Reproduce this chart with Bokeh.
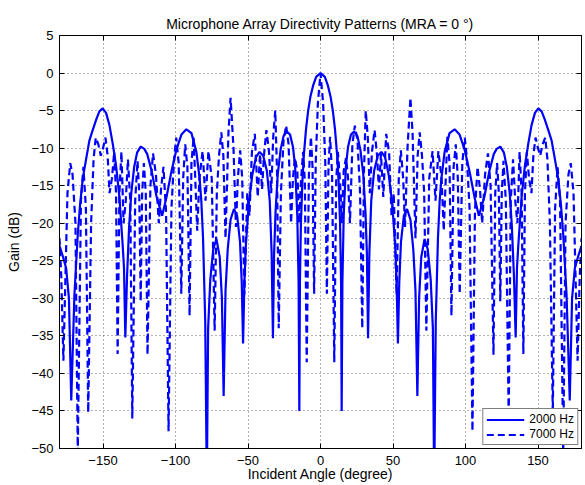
from bokeh.plotting import figure
from bokeh.models import FixedTicker, LinearAxis, Range1d, Legend, LegendItem
from bokeh.embed import file_html
from bokeh.resources import INLINE

FONT = "Liberation Sans"

# ---- data ----
angle_2000 = [-180, -177.7, -175.4, -173.5, -171.9, -169.7, -167.4, -165.8, -163.9, -161.5,
              -159.4, -157.1, -154.7, -152.5, -150.2, -147.9, -145.6, -143.3, -141, -138.7,
              -136.4, -135.5, -134.6, -133.4, -132, -130.5, -128.5, -126.5, -124, -121.5,
              -119.5, -116.5, -113, -109.2, -106.3, -102.8, -99.4, -95.9, -92.5, -89,
              -85.6, -83.4, -82.2, -81, -79.5, -78.4, -77.5, -76, -74, -71.8,
              -69.5, -68, -66.8, -65.5, -64, -62, -59.7, -57.5, -55.5, -54.3,
              -53.4, -52.5, -51.5, -49.5, -47, -44.5, -42, -39.5, -37, -35,
              -33.7, -32.8, -32, -31, -29.5, -27.5, -25.5, -23.2, -21, -19,
              -17.5, -16, -15.1, -14.6, -14.2, -13.5, -12.5, -11.5, -10, -8.5,
              -7, -5, -3,
              0,
              3, 5, 7, 8.5, 10, 11.5, 12.5, 13.5, 14.2, 14.6,
              15.1, 16, 17.5, 19, 21, 23.2, 25.5, 27.5, 29.5, 31,
              32, 32.8, 33.7, 35, 37, 39.5, 42, 44.5, 47, 49.5,
              51.5, 52.5, 53.4, 54.3, 55.5, 57.5, 59.7, 62, 64, 65.5,
              66.8, 68, 69.5, 71.8, 74, 76, 77.5, 78.4, 79.5, 81,
              82.2, 83.4, 85.6, 89, 92.5, 95.9, 99.4, 102.8, 106.3, 109.2,
              113, 116.5, 119.5, 121.5, 124, 126.5, 128.5, 130.5, 132, 133.4,
              134.6, 135.5, 136.4, 138.7, 141, 143.3, 145.6, 147.9, 150.2, 152.5,
              154.7, 157.1, 159.4, 161.5, 163.9, 165.8, 167.4, 169.7, 171.9, 173.5,
              175.4, 177.7, 180]
gain_2000 = [-23, -24.4, -26, -30, -43.6, -29.5, -21.5, -17.5, -14, -11.3,
             -9.0, -7.6, -6.2, -5.1, -4.7, -5.3, -6.9, -9.4, -12.3, -16.5,
             -23, -26, -35.2, -27, -20.5, -16, -12.5, -10.6, -9.8, -10.1,
             -10.8, -13, -16.5, -19, -16.6, -13.1, -10.2, -8.2, -7.5, -8.0,
             -10.5, -14, -17, -22, -33, -55, -34, -27.5, -23.5, -22.1,
             -24.5, -30, -43, -29, -23.5, -19.5, -18.1, -19, -22.5, -28,
             -36, -28, -23, -17.5, -13.5, -11.2, -10.5, -11, -13, -17,
             -24, -35.3, -24, -18.5, -13.5, -10.2, -8.4, -7.8, -8.2, -9.8,
             -12.5, -19, -28, -45, -28, -20, -14.5, -11.0, -7.5, -5.0,
             -3.2, -1.6, -0.5,
             0,
             -0.5, -1.6, -3.2, -5.0, -7.5, -11.0, -14.5, -20, -28, -45,
             -28, -19, -12.5, -9.8, -8.2, -7.8, -8.4, -10.2, -13.5, -18.5,
             -24, -35.3, -24, -17, -13, -11, -10.5, -11.2, -13.5, -17.5,
             -23, -28, -36, -28, -22.5, -19, -18.1, -19.5, -23.5, -29,
             -43, -30, -24.5, -22.1, -23.5, -27.5, -34, -55, -33, -22,
             -17, -14, -10.5, -8.0, -7.5, -8.2, -10.2, -13.1, -16.6, -19,
             -16.5, -13, -10.8, -10.1, -9.8, -10.6, -12.5, -16, -20.5, -27,
             -35.2, -26, -23, -16.5, -12.3, -9.4, -6.9, -5.3, -4.7, -5.1,
             -6.2, -7.6, -9.0, -11.3, -14, -17.5, -21.5, -29.5, -43.6, -30,
             -26, -24.4, -23]

angle_7000 = [-180.0, -178.8, -177.3, -174.5, -172.6, -171.0, -169.0, -167.4, -165.2, -163.5,
              -161.8, -160.2, -158.2, -156.5, -155.0, -153.2, -151.5, -150.0, -148.3, -146.8,
              -145.5, -143.8, -142.3, -141.0, -139.9, -138.7, -137.3, -135.8, -134.3, -132.8,
              -131.2, -129.8, -127.8, -126.2, -125.0, -124.0, -123.0, -121.8, -120.5, -119.3,
              -117.3, -115.5, -113.5, -111.5, -110.0, -108.3, -106.5, -104.8, -102.8, -101.0,
              -99.5, -97.8, -96.0, -94.7, -93.3, -91.8, -90.3, -89.0, -87.5, -85.0,
              -83.5, -81.3, -79.3, -77.3, -75.0, -73.0, -71.5, -70.0, -68.4, -67.0,
              -65.5, -63.5, -62.0, -60.0, -58.3, -57.0, -55.4, -54.0, -52.5, -50.5,
              -49.0, -47.3, -45.3, -43.3, -41.7, -40.3, -39.0, -37.3, -35.5, -34.0,
              -32.6, -31.2, -30.0, -28.8, -27.3, -25.5, -23.7, -22.0, -20.3, -19.0,
              -17.6, -16.0, -14.7, -13.5, -12.0, -10.8, -9.5, -8.0, -6.6, -5.5,
              -4.4, -3.3, -1.8,
              0.0,
              1.8, 3.3, 4.4, 5.5, 6.6, 8.0, 9.5, 10.8, 12.0, 13.5,
              14.7, 16.0, 17.6, 19.0, 20.3, 22.0, 23.7, 25.5, 27.3, 28.8,
              30.0, 31.2, 32.6, 34.0, 35.5, 37.3, 39.0, 40.3, 41.7, 43.3,
              45.3, 47.3, 49.0, 50.5, 52.5, 54.0, 55.4, 57.0, 58.3, 60.0,
              62.0, 63.5, 65.5, 67.0, 68.4, 70.0, 71.5, 73.0, 75.0, 77.3,
              79.3, 81.3, 83.5, 85.0, 87.5, 89.0, 90.3, 91.8, 93.3, 94.7,
              96.0, 97.8, 99.5, 101.0, 102.8, 104.8, 106.5, 108.3, 110.0, 111.5,
              113.5, 115.5, 117.3, 119.3, 120.5, 121.8, 123.0, 124.0, 125.0, 126.2,
              127.8, 129.8, 131.2, 132.8, 134.3, 135.8, 137.3, 138.7, 139.9, 141.0,
              142.3, 143.8, 145.5, 146.8, 148.3, 150.0, 151.5, 153.2, 155.0, 156.5,
              158.2, 160.2, 161.8, 163.5, 165.2, 167.4, 169.0, 171.0, 172.6, 174.5,
              177.3, 178.8, 180.0]
gain_7000 = [-22.0, -27.0, -38.3, -16.0, -12.0, -13.5, -20.0, -50.5, -17.0, -12.5,
             -18.0, -45.2, -20.0, -11.5, -8.6, -9.5, -11.0, -10.0, -8.6, -11.0,
             -16.0, -14.0, -10.5, -16.0, -37.4, -16.0, -10.5, -20.0, -17.0, -11.5,
             -17.0, -46.0, -17.0, -11.7, -16.0, -30.4, -16.0, -12.0, -16.0, -37.5,
             -15.0, -10.7, -13.5, -20.0, -15.5, -12.5, -18.5, -47.7, -18.0, -11.5,
             -8.6, -12.0, -29.4, -14.0, -9.5, -12.5, -32.3, -12.0, -8.5, -21.0,
             -14.0, -10.4, -17.0, -10.4, -14.0, -34.3, -16.0, -11.0, -7.9, -11.0,
             -22.0, -8.0, -3.3, -10.0, -20.5, -14.0, -10.3, -14.0, -29.5, -16.0,
             -19.0, -10.5, -8.1, -16.5, -10.8, -15.5, -11.0, -7.6, -10.5, -16.0,
             -8.5, -5.0, -13.0, -34.0, -16.0, -9.0, -7.0, -9.5, -20.0, -14.0,
             -11.3, -13.0, -20.0, -14.5, -10.5, -14.5, -38.5, -13.5, -8.5, -12.5,
             -29.4, -12.0, -4.0,
             0.0,
             -4.0, -12.0, -29.4, -12.5, -8.5, -13.5, -38.5, -14.5, -10.5, -14.5,
             -20.0, -13.0, -11.3, -14.0, -20.0, -9.5, -7.0, -9.0, -16.0, -34.0,
             -13.0, -5.0, -8.5, -16.0, -10.5, -7.6, -11.0, -15.5, -10.8, -16.5,
             -8.1, -10.5, -19.0, -16.0, -29.5, -14.0, -10.3, -14.0, -20.5, -10.0,
             -3.3, -8.0, -22.0, -11.0, -7.9, -11.0, -16.0, -34.3, -14.0, -10.4,
             -17.0, -10.4, -14.0, -21.0, -8.5, -12.0, -32.3, -12.5, -9.5, -14.0,
             -29.4, -12.0, -8.6, -11.5, -18.0, -47.7, -18.5, -12.5, -15.5, -20.0,
             -13.5, -10.7, -15.0, -37.5, -16.0, -12.0, -16.0, -30.4, -16.0, -11.7,
             -17.0, -46.0, -17.0, -11.5, -17.0, -20.0, -10.5, -16.0, -37.4, -16.0,
             -10.5, -14.0, -16.0, -11.0, -8.6, -10.0, -11.0, -9.5, -8.6, -11.5,
             -20.0, -45.2, -18.0, -12.5, -17.0, -50.5, -20.0, -13.5, -12.0, -16.0,
             -38.3, -27.0, -22.0]

x_ticks = [-150, -100, -50, 0, 50, 100, 150]
y_ticks = [5, 0, -5, -10, -15, -20, -25, -30, -35, -40, -45, -50]
series_labels = ["2000 Hz", "7000 Hz"]
title_text = "Microphone Array Directivity Patterns (MRA = 0 \u00b0)"
x_label = "Incident Angle (degree)"
y_label = "Gain (dB)"

BLUE = "#0000ff"

p = figure(width=585, height=485,
           x_range=Range1d(-180, 180), y_range=Range1d(-50, 5),
           output_backend="svg", toolbar_location=None,
           min_border_left=59, min_border_right=4, min_border_top=35, min_border_bottom=37,
           background_fill_color="white", border_fill_color="white")

p.title.text = title_text
p.title.text_font = FONT
p.title.text_font_size = "14px"
p.title.text_font_style = "normal"
p.title.text_color = "black"
p.title.align = "center"
p.title.standoff = 8

for ax, ticks, lab in ((p.xaxis[0], x_ticks, x_label), (p.yaxis[0], y_ticks, y_label)):
    ax.ticker = FixedTicker(ticks=ticks)
    ax.axis_label = lab
    ax.axis_label_text_font = FONT
    ax.axis_label_text_font_size = "14px"
    ax.axis_label_text_font_style = "normal"
    ax.axis_label_text_color = "black"
    ax.major_label_text_font = FONT
    ax.major_label_text_font_size = "13px"
    ax.major_label_text_color = "black"
    ax.major_tick_in = 5
    ax.major_tick_out = 0
    ax.minor_tick_in = 0
    ax.minor_tick_out = 0
    ax.axis_line_color = "black"
    ax.major_tick_line_color = "black"

p.xaxis.major_label_standoff = 7
p.xaxis.axis_label_standoff = -2
p.yaxis.major_label_standoff = 6
p.yaxis.axis_label_standoff = 6

# mirrored inward ticks on the right and top edges (minor ticks only, so no labels)
right_ax = LinearAxis(ticker=FixedTicker(ticks=[], minor_ticks=y_ticks),
                      major_tick_in=0, major_tick_out=0,
                      minor_tick_in=5, minor_tick_out=0, minor_tick_line_color="black",
                      axis_line_color="black")
top_ax = LinearAxis(ticker=FixedTicker(ticks=[], minor_ticks=x_ticks),
                    major_tick_in=0, major_tick_out=0,
                    minor_tick_in=5, minor_tick_out=0, minor_tick_line_color="black",
                    axis_line_color="black")
p.add_layout(right_ax, "right")
p.add_layout(top_ax, "above")

p.outline_line_color = "black"
p.outline_line_width = 1

p.xgrid.ticker = FixedTicker(ticks=x_ticks)
p.ygrid.ticker = FixedTicker(ticks=y_ticks)
for g in (p.xgrid[0], p.ygrid[0]):
    g.grid_line_color = "black"
    g.grid_line_alpha = 0.6
    g.grid_line_dash = "1 3"
    g.grid_line_width = 1

r1 = p.line(angle_2000, gain_2000, line_color=BLUE, line_width=2.2)
r2 = p.line(angle_7000, gain_7000, line_color=BLUE, line_width=2.2, line_dash="7 4")

legend = Legend(items=[LegendItem(label=series_labels[0], renderers=[r1]),
                       LegendItem(label=series_labels[1], renderers=[r2])],
                location="bottom_right")
legend.label_text_font = FONT
legend.label_text_font_size = "12px"
legend.label_text_color = "black"
legend.border_line_color = "black"
legend.border_line_width = 1
legend.background_fill_color = "white"
legend.background_fill_alpha = 1
legend.glyph_width = 38
legend.glyph_height = 13
legend.label_height = 13
legend.label_standoff = 5
legend.spacing = 1
legend.padding = 3
legend.margin = 3
p.add_layout(legend)

open("out.html", "w").write(file_html(p, INLINE))
